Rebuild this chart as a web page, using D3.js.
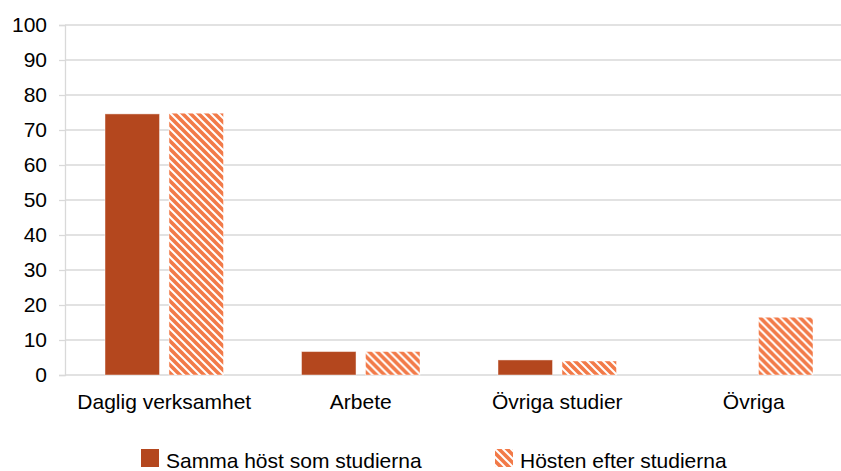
<!DOCTYPE html>
<html>
<head>
<meta charset="utf-8">
<script src="https://cdn.jsdelivr.net/npm/d3@7"></script>
<style>
  body { margin: 0; background: #fff; }
  text { font-family: "Liberation Sans", Arial, sans-serif; fill: #000; }
</style>
</head>
<body>
<div id="chart"></div>
<script>
const categories = ["Daglig verksamhet", "Arbete", "Övriga studier", "Övriga"];
const seriesNames = ["Samma höst som studierna", "Hösten efter studierna"];
const sammaHost = [74.6, 6.7, 4.3, 0];
const hostenEfter = [74.8, 6.7, 4.0, 16.5];
const yTicks = [0, 10, 20, 30, 40, 50, 60, 70, 80, 90, 100];

const width = 841, height = 471;
const margin = { left: 65, top: 25, bottom: 96 };
const svg = d3.select("#chart").append("svg")
  .attr("width", width)
  .attr("height", height);

// pattern for second series (wide downward diagonal)
const defs = svg.append("defs");
const pat = defs.append("pattern")
  .attr("id", "diag")
  .attr("patternUnits", "userSpaceOnUse")
  .attr("width", 8)
  .attr("height", 8);
pat.append("rect").attr("width", 8).attr("height", 8).attr("fill", "#f27a48");
pat.append("path")
  .attr("d", "M-2,-2 L10,10 M-2,6 L2,10 M6,-2 L10,2")
  .attr("stroke", "#fff")
  .attr("stroke-width", 2);

const y = d3.scaleLinear().domain([0, 100]).range([375, 25]);

const x0 = d3.scaleBand()
  .domain(categories)
  .range([margin.left + 1, 852])
  .paddingInner(0.397)
  .paddingOuter(0.1985);

const x1 = d3.scaleBand()
  .domain(seriesNames)
  .range([0, x0.bandwidth()])
  .paddingInner(0.148);

const fills = ["#b4471e", "url(#diag)"];

// grid lines
svg.append("g")
  .selectAll("line")
  .data(yTicks)
  .join("line")
  .attr("x1", margin.left)
  .attr("x2", width)
  .attr("y1", d => y(d))
  .attr("y2", d => y(d))
  .attr("stroke", "#d9d9d9")
  .attr("stroke-width", 1.3);

// y axis
const yAxis = svg.append("g")
  .attr("transform", `translate(${margin.left},0)`)
  .call(d3.axisLeft(y).tickValues(yTicks).tickSize(6).tickPadding(12));
yAxis.select(".domain").attr("stroke", "#d9d9d9").attr("stroke-width", 1.3);
yAxis.selectAll(".tick line").attr("stroke", "#d9d9d9").attr("stroke-width", 1.3);
yAxis.selectAll(".tick text")
  .attr("font-size", 21)
  .attr("font-family", "Liberation Sans, Arial, sans-serif")
  .attr("fill", "#000");

// bars
const rows = categories.map((c, i) => ({ cat: c, values: [sammaHost[i], hostenEfter[i]] }));
const groups = svg.append("g")
  .selectAll("g")
  .data(rows)
  .join("g")
  .attr("transform", d => `translate(${x0(d.cat)},0)`);

groups.selectAll("rect")
  .data(d => d.values.map((v, j) => ({ v, j })).filter(e => e.v > 0))
  .join("rect")
  .attr("x", e => x1(seriesNames[e.j]))
  .attr("width", x1.bandwidth())
  .attr("y", e => y(e.v))
  .attr("height", e => y(0) - y(e.v))
  .attr("fill", e => fills[e.j])
  .attr("stroke", "#fff")
  .attr("stroke-opacity", 0.45)
  .attr("stroke-width", 1);

// category labels
svg.append("g")
  .selectAll("text")
  .data(categories)
  .join("text")
  .attr("x", d => x0(d) + x0.bandwidth() / 2)
  .attr("y", 409)
  .attr("text-anchor", "middle")
  .attr("font-size", 21)
  .text(d => d);

// legend
const legendX = [141, 495];
const legend = svg.append("g")
  .selectAll("g")
  .data(seriesNames)
  .join("g")
  .attr("transform", (d, i) => `translate(${legendX[i]},449)`);
legend.append("rect")
  .attr("width", 18)
  .attr("height", 18)
  .attr("fill", (d, i) => fills[i]);
legend.append("text")
  .attr("x", 25)
  .attr("y", 19)
  .attr("font-size", 21)
  .text(d => d);
</script>
</body>
</html>
